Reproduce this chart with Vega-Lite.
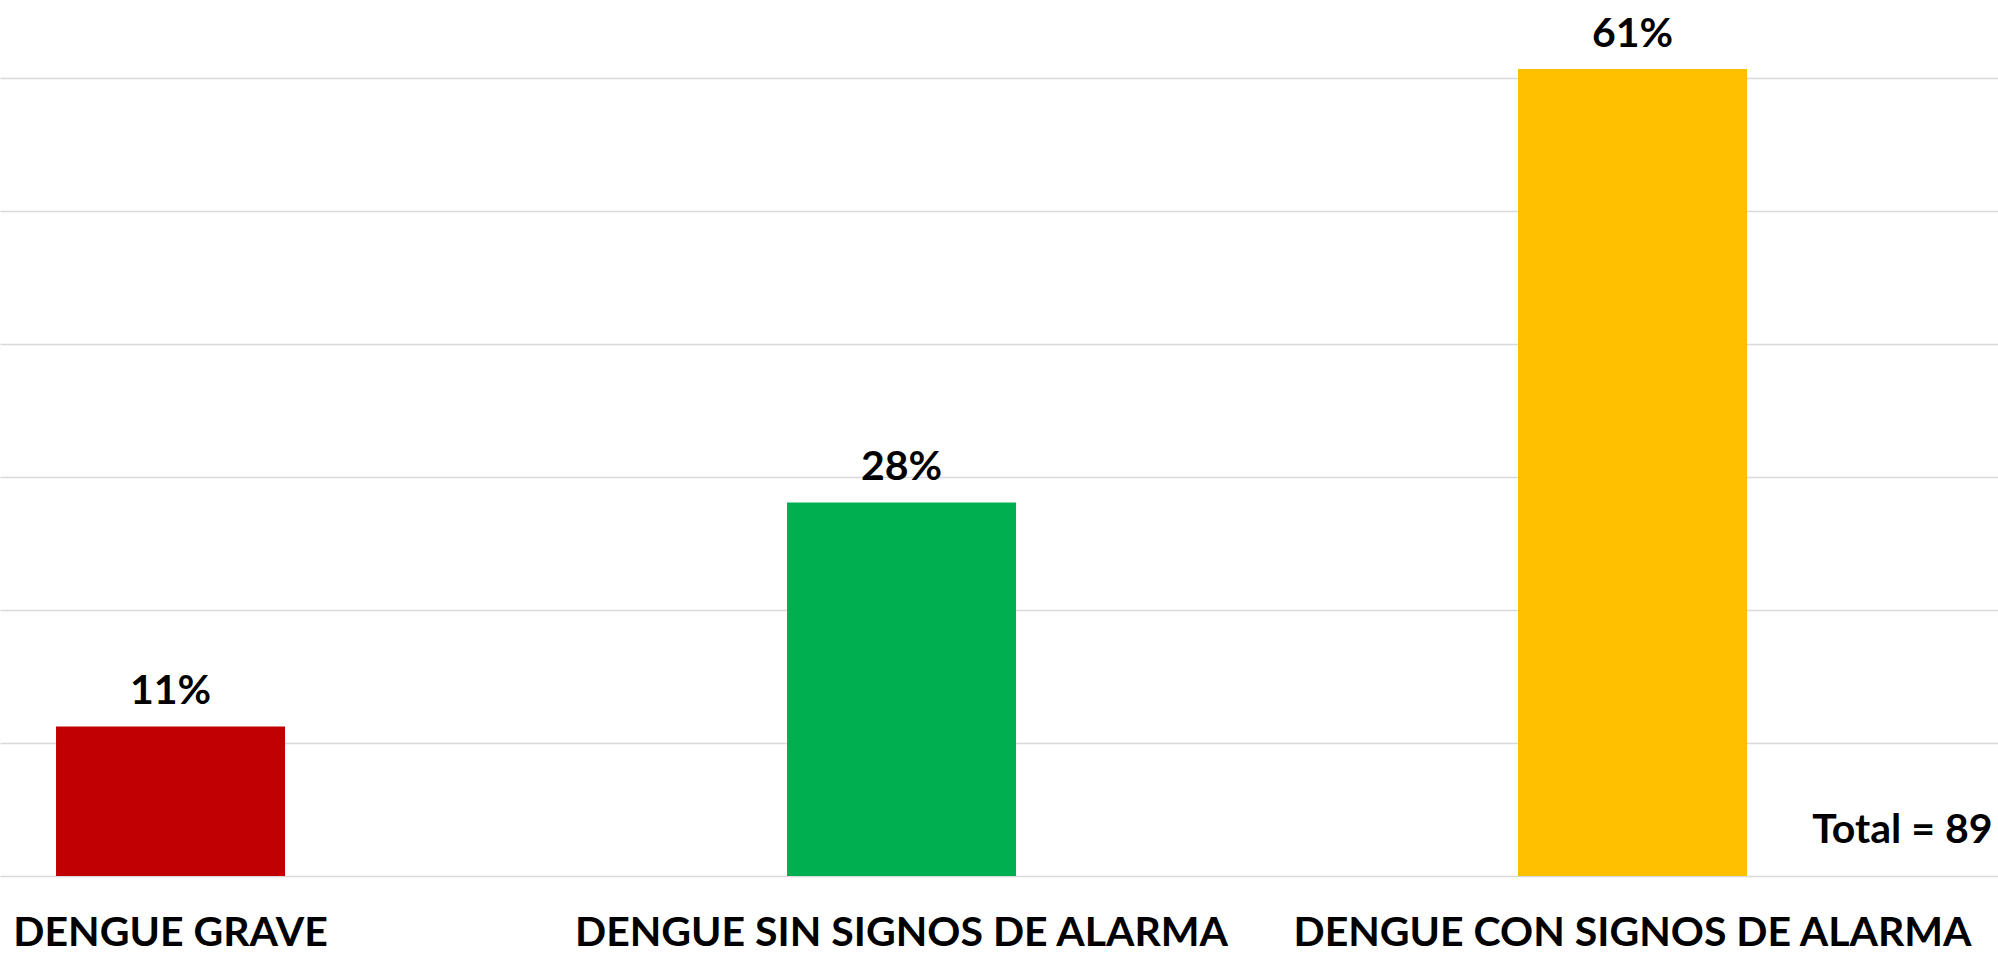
{
  "$schema": "https://vega.github.io/schema/vega-lite/v6.json",
  "width": 1998,
  "height": 876,
  "autosize": {"type": "none"},
  "padding": {"top": 0, "left": 0, "right": 0, "bottom": 79},
  "background": "white",
  "config": {"view": {"stroke": null}},
  "data": {
    "values": [
      {"categoria": "DENGUE GRAVE", "casos": 10, "porcentaje": 0.1124},
      {"categoria": "DENGUE SIN SIGNOS DE ALARMA", "casos": 25, "porcentaje": 0.2809},
      {"categoria": "DENGUE CON SIGNOS DE ALARMA", "casos": 54, "porcentaje": 0.6067}
    ]
  },
  "encoding": {
    "x": {
      "field": "categoria",
      "type": "nominal",
      "sort": null,
      "scale": {"paddingInner": 0.6867, "paddingOuter": 0.21, "align": 0.1825},
      "axis": {
        "title": null,
        "labelAngle": 0,
        "labelFont": "Lato",
        "labelFontWeight": "bold",
        "labelFontSize": 41,
        "labelColor": "#000000",
        "labelLimit": 0,
        "labelOverlap": false,
        "labelBaseline": "alphabetic",
        "labelPadding": 69,
        "ticks": false,
        "tickSize": 0,
        "domain": false,
        "grid": false
      }
    },
    "y": {
      "field": "porcentaje",
      "type": "quantitative",
      "scale": {"domain": [0, 0.6586], "nice": false, "zero": true},
      "axis": {
        "title": null,
        "labels": false,
        "ticks": false,
        "domain": false,
        "grid": true,
        "gridColor": "#d9d9d9",
        "gridWidth": 1.6,
        "values": [0, 0.1, 0.2, 0.3, 0.4, 0.5, 0.6]
      }
    }
  },
  "layer": [
    {
      "mark": {"type": "bar"},
      "encoding": {
        "color": {
          "field": "categoria",
          "type": "nominal",
          "scale": {
            "domain": ["DENGUE GRAVE", "DENGUE SIN SIGNOS DE ALARMA", "DENGUE CON SIGNOS DE ALARMA"],
            "range": ["#C00000", "#00B050", "#FFC000"]
          },
          "legend": null
        }
      }
    },
    {
      "mark": {
        "type": "text",
        "font": "Lato",
        "fontWeight": "bold",
        "fontSize": 41,
        "color": "#000000",
        "baseline": "alphabetic",
        "align": "center",
        "dy": -22
      },
      "encoding": {
        "text": {"field": "porcentaje", "type": "quantitative", "format": ".0%"}
      }
    },
    {
      "data": {"values": [{"categoria": "DENGUE CON SIGNOS DE ALARMA", "posicion": 0.025, "etiqueta": "Total = 89"}]},
      "mark": {
        "type": "text",
        "font": "Lato",
        "fontWeight": "bold",
        "fontSize": 41,
        "color": "#000000",
        "baseline": "alphabetic",
        "align": "right",
        "dx": 360
      },
      "encoding": {
        "x": {"field": "categoria", "type": "nominal"},
        "y": {"field": "posicion", "type": "quantitative"},
        "text": {"field": "etiqueta"}
      }
    }
  ]
}
